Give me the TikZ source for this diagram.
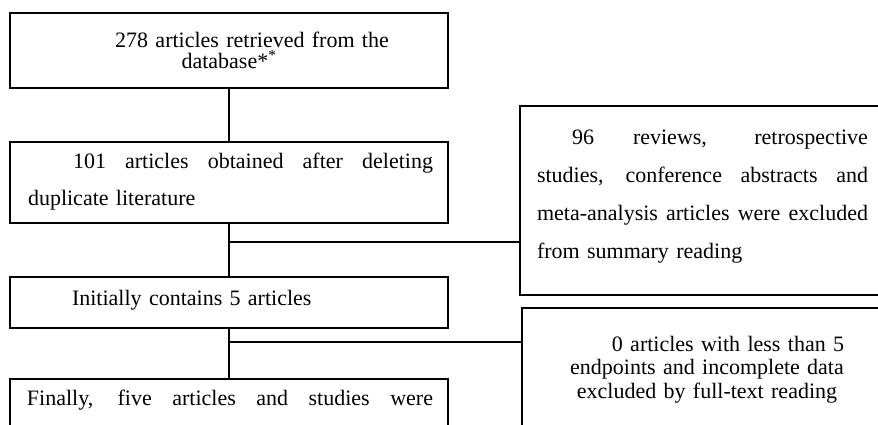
\documentclass[tikz,border=0pt]{standalone}
\usepackage{fontspec}
\setmainfont{Liberation Serif}
\newcommand{\jline}[2]{\makebox[#1][s]{\spaceskip=0pt\xspaceskip=0pt #2}}
\begin{document}
\begin{tikzpicture}[x=1pt,y=-1pt,
  box/.style={draw=black, line width=1.6pt, rectangle, inner sep=0pt, outer sep=0pt},
  conn/.style={draw=black, line width=1.6pt},
  txt/.style={inner sep=0pt, outer sep=0pt, font=\fontsize{22}{37}\selectfont}]
\useasboundingbox (0,0) rectangle (878,424);
\clip (0,0) rectangle (878,424);
\fill[white] (0,0) rectangle (878,424);
% boxes
\node[box, minimum width=438pt, minimum height=75pt] (b1) at (229,50.5) {};
\node[box, minimum width=438pt, minimum height=81pt] (b2) at (229,182.5) {};
\node[box, minimum width=366pt, minimum height=189pt] (b3) at (703,200.5) {};
\node[box, minimum width=438pt, minimum height=51pt] (b4) at (229,302.5) {};
\node[box, minimum width=438pt, minimum height=78pt] (b5) at (229,418) {};
\node[box, minimum width=370pt, minimum height=124pt] (b6) at (707,370) {};
% texts
\node[txt, font=\fontsize{22}{21}\selectfont, anchor=base, text width=420pt, align=center] (t1) at (229,47)
  {\hspace*{46pt}278 articles retrieved from the\\database*\textsuperscript{*}};
\node[txt, anchor=base west, text width=405pt, align=left] (t2) at (28,168)
  {\hspace*{45pt}\jline{360pt}{101 articles obtained after deleting}\\duplicate literature};
\node[txt, font=\fontsize{22}{38.3}\selectfont, anchor=base west, text width=331pt, align=left] (t3) at (537,144)
  {\hspace*{35pt}\jline{296pt}{96 reviews, retrospective}\\\jline{331pt}{studies, conference abstracts and}\\\jline{331pt}{meta-analysis articles were excluded}\\from summary reading};
\node[txt, anchor=base west, text width=405pt, align=left] (t4) at (28,305)
  {\hspace*{44pt}Initially contains 5 articles};
\node[txt, anchor=base west, text width=406pt, align=left] (t5) at (27,405)
  {\jline{406pt}{Finally, five articles and studies were}};
\node[txt, font=\fontsize{22}{23.5}\selectfont, anchor=base, text width=330pt, align=center] (t6) at (707,351)
  {\hspace*{42pt}0 articles with less than 5\\endpoints and incomplete data\\excluded by full-text reading};
% connectors
\draw[conn] (b1.south) -- (b2.north);
\draw[conn] (b2.south) -- (b4.north);
\draw[conn] (b4.south) -- (b5.north);
\coordinate (j1) at (229,242);
\coordinate (j2) at (229,342);
\draw[conn] (j1) -- (j1 -| b3.west);
\draw[conn] (j2) -- (j2 -| b6.west);
\end{tikzpicture}
\end{document}
